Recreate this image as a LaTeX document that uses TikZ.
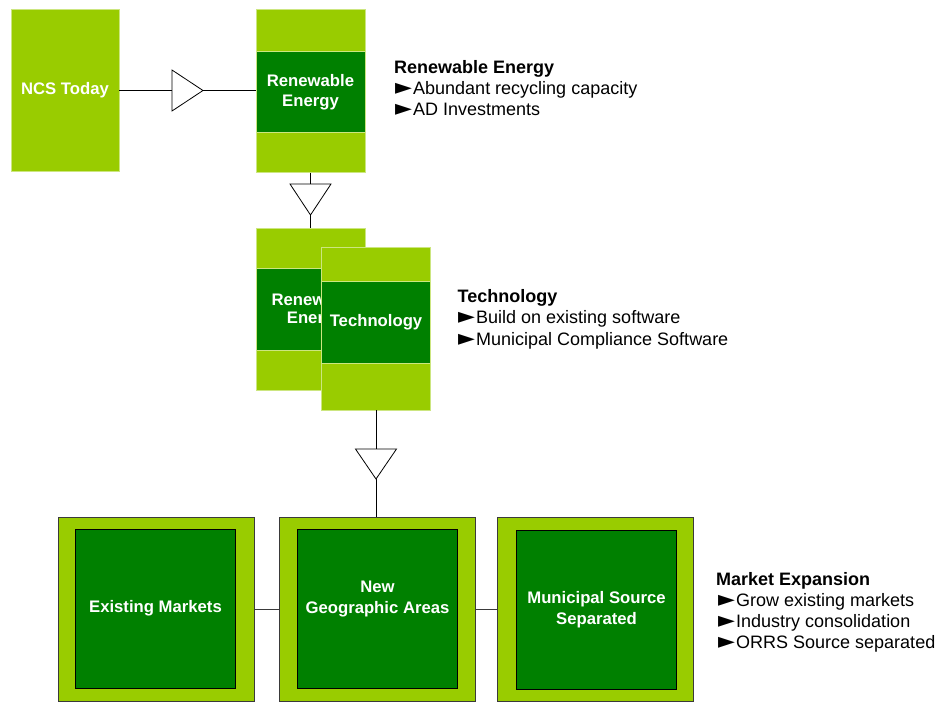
\documentclass[tikz,border=0pt]{standalone}
\usepackage{fontspec}
\setmainfont{Liberation Sans}
\newfontfamily\pointerfont{DejaVu Sans}
\newcommand\pointer{\makebox[18pt][l]{\pointerfont\fontsize{22}{21}\selectfont\raisebox{-0.3pt}{►}}}
\definecolor{lime}{HTML}{99CC00}
\definecolor{leaf}{HTML}{008000}
\definecolor{rim}{HTML}{CCE680}
\definecolor{edge}{HTML}{3A3A3A}
\begin{document}
\begin{tikzpicture}[x=1pt,y=-1pt,
  stackbox/.style={rectangle, fill=lime, draw=rim, line width=0.8pt,
    minimum width=109pt, minimum height=163pt, inner sep=0pt},
  band/.style={rectangle, fill=leaf, draw=rim, line width=0.8pt,
    minimum width=109pt, minimum height=81pt, inner sep=0pt,
    text=white, align=center, font=\fontsize{16.7}{20}\selectfont\bfseries},
  marketbox/.style={rectangle, fill=lime, draw=edge, line width=0.8pt,
    minimum width=196pt, minimum height=184pt, inner sep=0pt},
  marketcore/.style={rectangle, fill=leaf, draw=black, line width=0.8pt,
    minimum width=160pt, minimum height=159pt, inner sep=0pt,
    text=white, align=center, font=\fontsize{16.7}{20.5}\selectfont\bfseries},
  cardtext/.style={text=white, align=center, inner sep=0pt,
    font=\fontsize{16.7}{18}\selectfont\bfseries},
  link/.style={draw=black, line width=0.9pt},
  tri/.style={draw=black, fill=white, line width=0.8pt, line join=miter},
  head/.style={anchor=base west, inner sep=0pt, font=\fontsize{18}{21}\selectfont\bfseries},
  item/.style={anchor=base west, inner sep=0pt, font=\fontsize{18}{21}\selectfont},
]
\useasboundingbox (0,0) rectangle (938,702);

% --- starting point ---
\node[stackbox, minimum width=108pt, minimum height=162pt,
      text=white, font=\fontsize{16.7}{20}\selectfont\bfseries] (ncs) at (65,90) {NCS Today};

% --- renewable energy stage ---
\node[stackbox] (re) at (310.5,90.7) {};
\node[band] (reband) at (310.5,92) {Renewable\\Energy};

% --- technology stage, stacked over a second renewable card ---
\node[stackbox, minimum height=162pt] (retwo) at (310.5,309) {};
\node[band, minimum height=82pt] (retwoband) at (310.5,309.2) {};
\node[cardtext] (retwotext) at (315.2,310) {Renewable\\Energy};
\node[stackbox] (tech) at (376,328.5) {};
\node[band, minimum height=82pt] (techband) at (376,322.5) {Technology};

% --- market expansion stage ---
\node[marketbox] (mone) at (156,609) {};
\node[marketcore] (monecore) at (155.5,608.5) {Existing Markets};
\node[marketbox] (mtwo) at (377,609) {};
\node[marketcore] (mtwocore) at (377.5,608.5) {};
\node[text=white, align=center, inner sep=0pt,
      font=\fontsize{16.7}{20.5}\selectfont\bfseries] (mtwotext) at (377.5,599) {New\\Geographic Areas};
\node[marketbox] (mthree) at (595.5,609) {};
\node[marketcore] (mthreecore) at (596.5,609.5) {Municipal Source\\Separated};

% --- triangle markers on the flow lines ---
\coordinate (tonea) at (172,70);
\coordinate (toneb) at (172,111);
\coordinate (tonebase) at (172,90.5);
\coordinate (tonetip) at (203,90.5);

\coordinate (ttwoa) at (290,184);
\coordinate (ttwob) at (331,184);
\coordinate (ttwobase) at (310.5,184);
\coordinate (ttwotip) at (310.5,215);

\coordinate (tthreea) at (355.5,449);
\coordinate (tthreeb) at (396.5,449);
\coordinate (tthreebase) at (376,449);
\coordinate (tthreetip) at (376,479);

% --- flow lines ---
\draw[link] (ncs.east |- tonebase) -- (tonebase);
\draw[link] (tonetip) -- (tonetip -| re.west);
\draw[link] (re.south) -- (ttwobase);
\draw[link] (ttwotip) -- (ttwotip |- retwo.north);
\draw[link] (tech.south) -- (tthreebase);
\draw[link] (tthreetip) -- (tthreetip |- mtwo.north);
\draw[link, draw=edge] (mone.east) -- (mtwo.west);
\draw[link, draw=edge] (mtwo.east) -- (mthree.west);

\draw[tri] (tonea) -- (tonetip) -- (toneb) -- cycle;
\draw[tri] (ttwoa) -- (ttwotip) -- (ttwob) -- cycle;
\draw[tri] (tthreea) -- (tthreetip) -- (tthreeb) -- cycle;

% --- stage descriptions ---
\node[head] (reh) at (394,73) {Renewable Energy};
\node[item] (reone) at (395,94) {\pointer Abundant recycling capacity};
\node[item] (retwoi) at (395,115) {\pointer AD Investments};

\node[head] (teh) at (457.5,302) {Technology};
\node[item] (teone) at (458,323.5) {\pointer Build on existing software};
\node[item] (tetwo) at (458,345) {\pointer Municipal Compliance Software};

\node[head] (meh) at (716,585) {Market Expansion};
\node[item] (meone) at (718,606) {\pointer Grow existing markets};
\node[item] (metwo) at (718,627) {\pointer Industry consolidation};
\node[item] (methree) at (718,648) {\pointer ORRS Source separated};
\end{tikzpicture}
\end{document}
